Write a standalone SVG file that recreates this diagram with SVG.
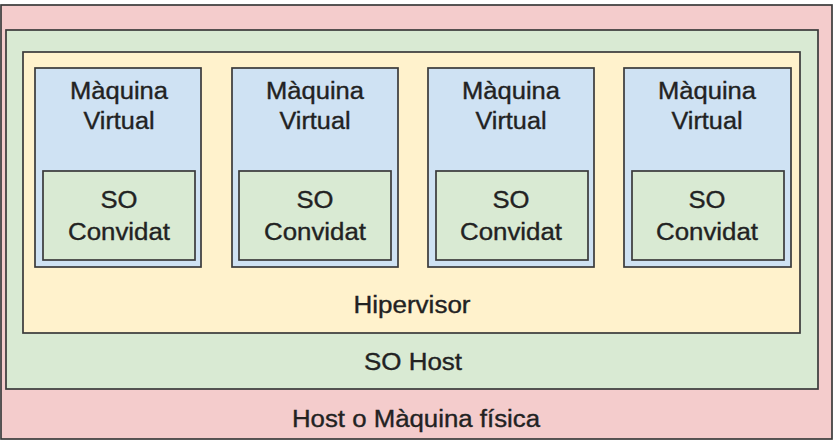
<svg xmlns="http://www.w3.org/2000/svg" width="837" height="441" viewBox="0 0 837 441">
<style>
rect{stroke:#3a3a3a;stroke-width:1.7}
.host{fill:#f4cccc}
.sohost{fill:#d9ead3}
.hyp{fill:#fff2cc}
.vm{fill:#cfe2f3}
.so{fill:#d9ead3}
text{font-family:"Liberation Sans",Arial,sans-serif;font-size:23px;fill:#222;stroke:#222;stroke-width:0.35;text-anchor:middle}
</style>
<rect width="837" height="441" fill="#ffffff" style="stroke:none"/>
<g id="host">
<rect class="host" x="1" y="5" width="831" height="434"/>
<text x="416" y="427" textLength="248" lengthAdjust="spacingAndGlyphs">Host o Màquina física</text>
</g>
<g id="so-host">
<rect class="sohost" x="6" y="30" width="812" height="359"/>
<text x="413" y="370" textLength="98" lengthAdjust="spacingAndGlyphs">SO Host</text>
</g>
<g id="hipervisor">
<rect class="hyp" x="23" y="52" width="777" height="281"/>
<text x="412" y="313" textLength="117" lengthAdjust="spacingAndGlyphs">Hipervisor</text>
</g>
<g id="vm1">
<rect class="vm" x="35" y="68" width="166" height="199"/>
<text x="119" y="99" textLength="98" lengthAdjust="spacingAndGlyphs">Màquina</text>
<text x="119" y="129" textLength="71" lengthAdjust="spacingAndGlyphs">Virtual</text>
<g id="so1">
<rect class="so" x="43" y="171" width="152" height="89"/>
<text x="119" y="208" textLength="37" lengthAdjust="spacingAndGlyphs">SO</text>
<text x="119" y="240" textLength="102" lengthAdjust="spacingAndGlyphs">Convidat</text>
</g>
</g>
<g id="vm2">
<rect class="vm" x="232" y="68" width="166" height="199"/>
<text x="315" y="99" textLength="98" lengthAdjust="spacingAndGlyphs">Màquina</text>
<text x="315" y="129" textLength="71" lengthAdjust="spacingAndGlyphs">Virtual</text>
<g id="so2">
<rect class="so" x="239" y="171" width="152" height="89"/>
<text x="315" y="208" textLength="37" lengthAdjust="spacingAndGlyphs">SO</text>
<text x="315" y="240" textLength="102" lengthAdjust="spacingAndGlyphs">Convidat</text>
</g>
</g>
<g id="vm3">
<rect class="vm" x="428" y="68" width="166" height="199"/>
<text x="511" y="99" textLength="98" lengthAdjust="spacingAndGlyphs">Màquina</text>
<text x="511" y="129" textLength="71" lengthAdjust="spacingAndGlyphs">Virtual</text>
<g id="so3">
<rect class="so" x="436" y="171" width="152" height="89"/>
<text x="511" y="208" textLength="37" lengthAdjust="spacingAndGlyphs">SO</text>
<text x="511" y="240" textLength="102" lengthAdjust="spacingAndGlyphs">Convidat</text>
</g>
</g>
<g id="vm4">
<rect class="vm" x="624" y="68" width="167" height="199"/>
<text x="707" y="99" textLength="98" lengthAdjust="spacingAndGlyphs">Màquina</text>
<text x="707" y="129" textLength="71" lengthAdjust="spacingAndGlyphs">Virtual</text>
<g id="so4">
<rect class="so" x="632" y="171" width="152" height="89"/>
<text x="707" y="208" textLength="37" lengthAdjust="spacingAndGlyphs">SO</text>
<text x="707" y="240" textLength="102" lengthAdjust="spacingAndGlyphs">Convidat</text>
</g>
</g>
<g id="connectors"/>
</svg>
